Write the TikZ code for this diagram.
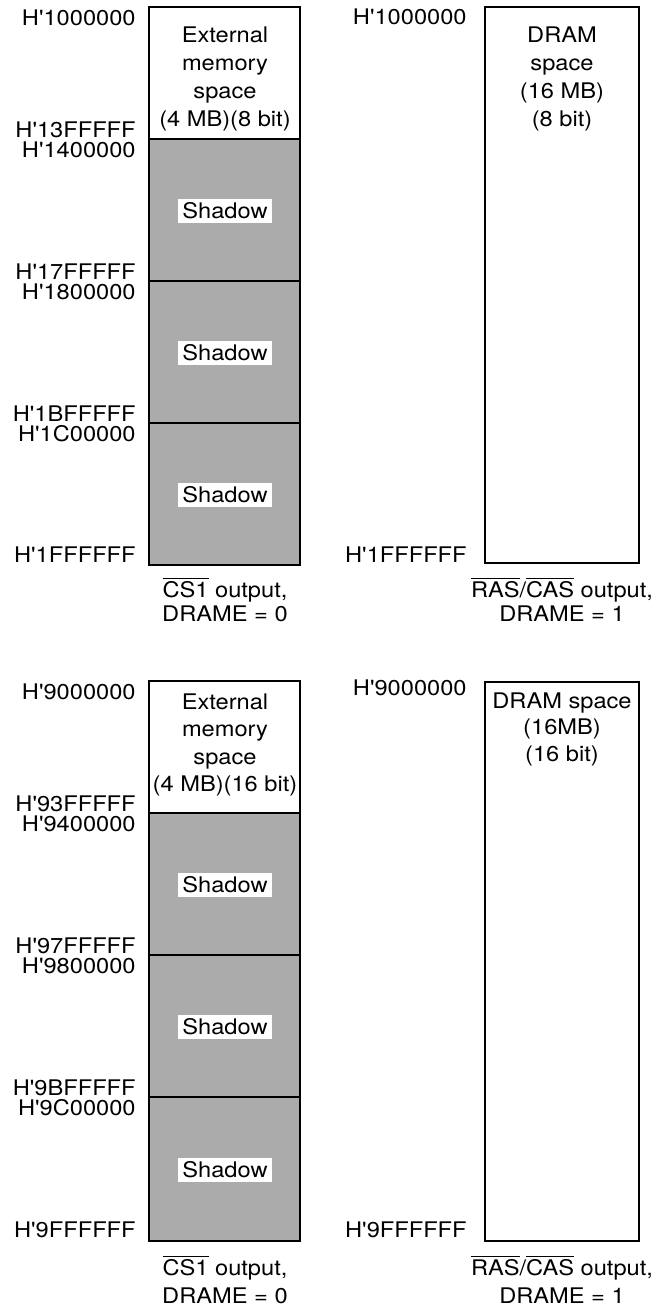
\documentclass[tikz,border=0pt]{standalone}
\usepackage{fontspec}
\setmainfont{TeX Gyre Heros}[FakeStretch=1.1, Ligatures=TeXOff]
\begin{document}
\begin{tikzpicture}[x=0.5pt,y=-0.5pt,
  every node/.style={font=\fontsize{10.75}{14}\selectfont, inner sep=0pt},
  blk/.style={draw=black, line width=0.75pt},
  shade/.style={blk, fill=black!33},
  addr/.style={anchor=base east},
  captxt/.style={anchor=base},
  shadowlbl/.style={fill=white, inner sep=2pt},
  boxtxt/.style={anchor=north, align=center}]
\useasboundingbox (0,0) rectangle (662,1309);
% ---------- top left ----------
\draw[blk] (149,7) rectangle (300,139);
\draw[shade] (149,139) rectangle (300,281);
\draw[shade] (149,281) rectangle (300,423);
\draw[shade] (149,423) rectangle (300,565);
\node[boxtxt] (tl) at (225,26) {External\\memory\\space\\(4 MB)(8 bit)};
\node[shadowlbl] (s1) at (225,211) {Shadow};
\node[shadowlbl] (s2) at (225,353) {Shadow};
\node[shadowlbl] (s3) at (225,495) {Shadow};
\node[addr] (a1) at (136,25.5) {H'1000000};
\node[addr] (a2) at (136,138) {H'13FFFFF};
\node[addr] (a3) at (136,157.5) {H'1400000};
\node[addr] (a4) at (136,279.5) {H'17FFFFF};
\node[addr] (a5) at (136,299.5) {H'1800000};
\node[addr] (a6) at (136,421.5) {H'1BFFFFF};
\node[addr] (a7) at (136,441.5) {H'1C00000};
\node[addr] (a8) at (136,562.5) {H'1FFFFFF};
\node[captxt] (c1) at (225,597) {$\overline{\mbox{CS1}}$ output,};
\node[captxt] (c2) at (225,621) {DRAME = 0};
% ---------- top right ----------
\draw[blk] (485,7) rectangle (639,563);
\node[boxtxt] (tr) at (562,26) {DRAM\\space\\(16 MB)\\(8 bit)};
\node[addr] (b1) at (467,25) {H'1000000};
\node[addr] (b2) at (467,562.5) {H'1FFFFFF};
\node[captxt] (d1) at (562,597) {$\overline{\mbox{RAS}}$/$\overline{\mbox{CAS}}$ output,};
\node[captxt] (d2) at (562,621) {DRAME = 1};
% ---------- bottom left ----------
\draw[blk] (149,681) rectangle (300,813);
\draw[shade] (149,813) rectangle (300,955);
\draw[shade] (149,955) rectangle (300,1097);
\draw[shade] (149,1097) rectangle (300,1241);
\node[boxtxt, font=\fontsize{10.75}{13.8}\selectfont] (bl) at (225,693) {External\\memory\\space\\(4 MB)(16 bit)};
\node[shadowlbl] (s4) at (225,885) {Shadow};
\node[shadowlbl] (s5) at (225,1027) {Shadow};
\node[shadowlbl] (s6) at (225,1170) {Shadow};
\node[addr] (e1) at (136,699.5) {H'9000000};
\node[addr] (e2) at (136,811.5) {H'93FFFFF};
\node[addr] (e3) at (136,831.5) {H'9400000};
\node[addr] (e4) at (136,953.5) {H'97FFFFF};
\node[addr] (e5) at (136,973.5) {H'9800000};
\node[addr] (e6) at (136,1095.5) {H'9BFFFFF};
\node[addr] (e7) at (136,1115.5) {H'9C00000};
\node[addr] (e8) at (136,1237.5) {H'9FFFFFF};
\node[captxt] (f1) at (225,1275) {$\overline{\mbox{CS1}}$ output,};
\node[captxt] (f2) at (225,1303) {DRAME = 0};
% ---------- bottom right ----------
\draw[blk] (485,682) rectangle (639,1241);
\node[boxtxt, font=\fontsize{10.75}{13.25}\selectfont] (br) at (562,692) {DRAM space\\(16MB)\\(16 bit)};
\node[addr] (g1) at (467,695.5) {H'9000000};
\node[addr] (g2) at (467,1237.5) {H'9FFFFFF};
\node[captxt] (h1) at (562,1275) {$\overline{\mbox{RAS}}$/$\overline{\mbox{CAS}}$ output,};
\node[captxt] (h2) at (562,1303) {DRAME = 1};
\end{tikzpicture}
\end{document}
